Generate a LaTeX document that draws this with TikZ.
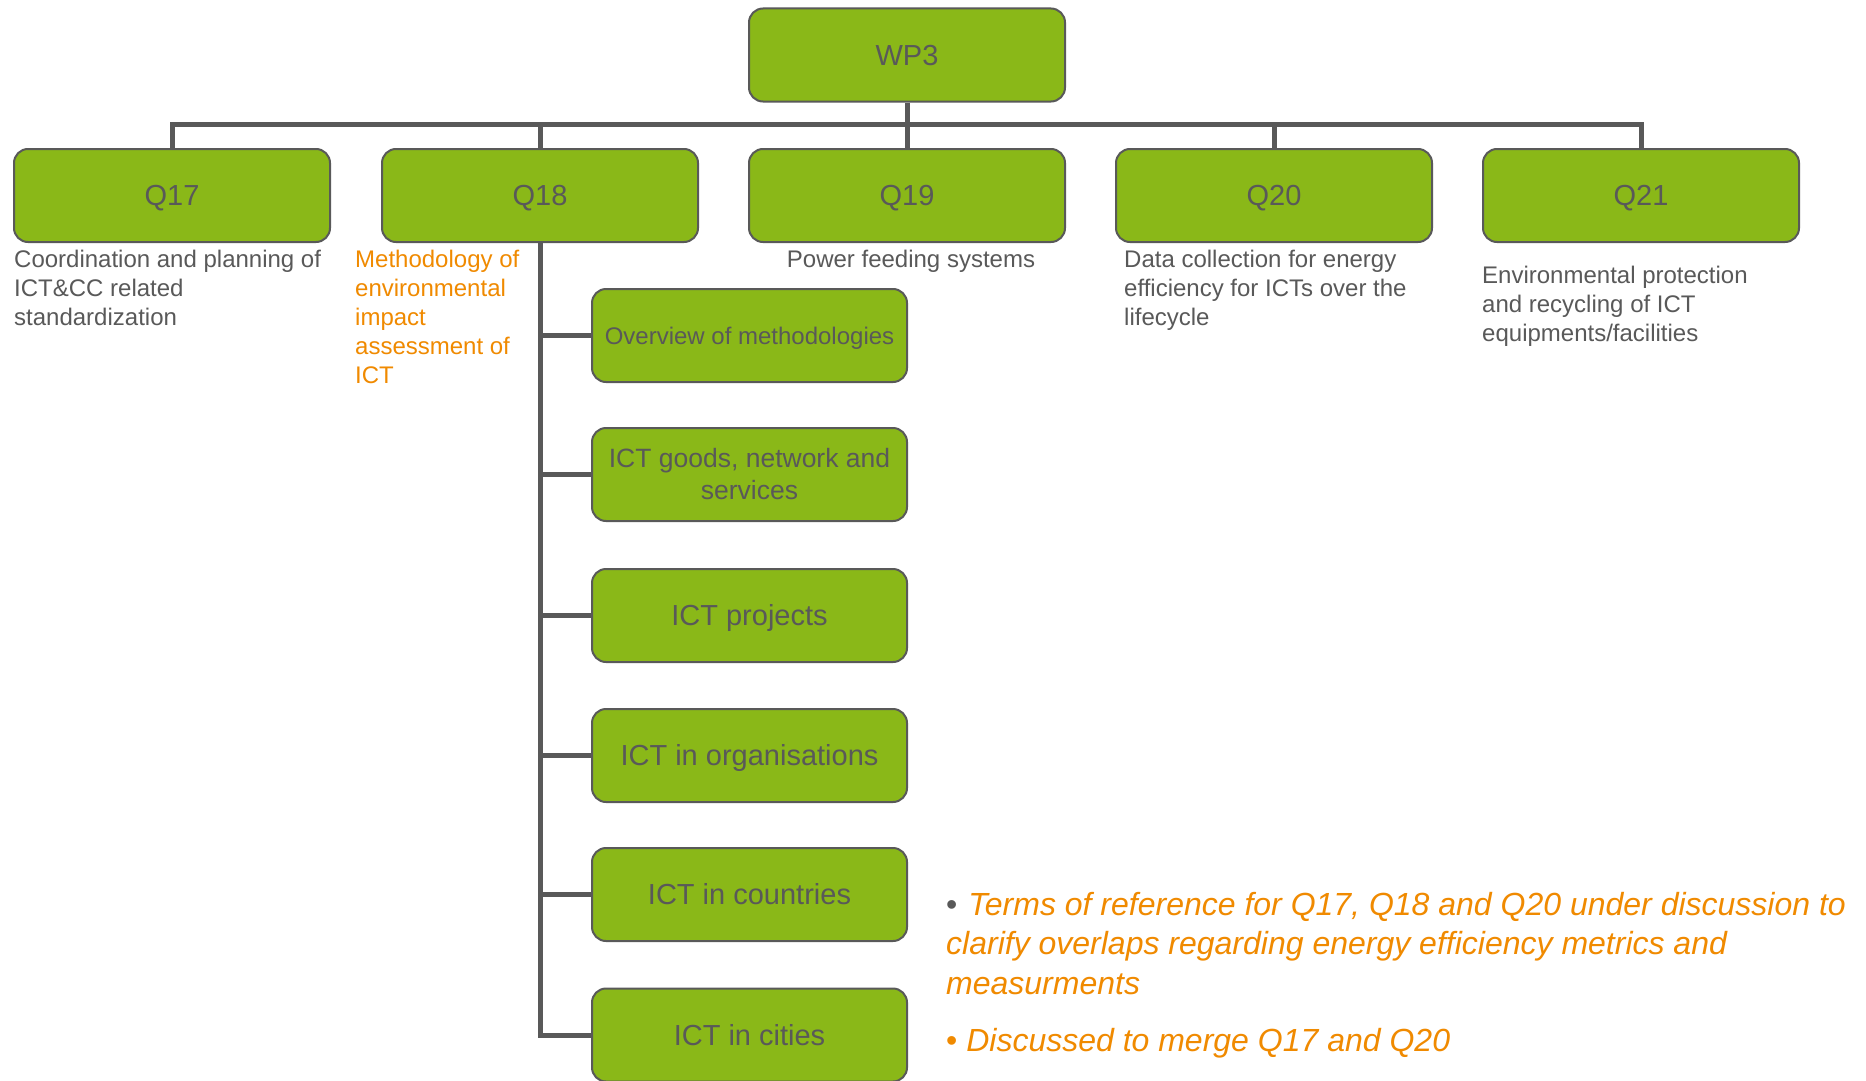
\documentclass[tikz,border=0pt]{standalone}
\usepackage{fontspec}
\setmainfont{Liberation Sans}
\definecolor{boxgreen}{RGB}{138,184,24}
\definecolor{txtgray}{RGB}{89,89,89}
\definecolor{orng}{RGB}{240,138,0}
\begin{document}
\begin{tikzpicture}[x=1pt,y=-1pt,
 basebox/.style={draw=txtgray, line width=2pt, fill=boxgreen, rounded corners=14pt, minimum width=316pt, minimum height=93pt, inner sep=0pt, text=txtgray, font=\fontsize{29}{35}\selectfont},
 qbox/.style={basebox, text height=20.8pt, text depth=0pt},
 sbox/.style={qbox, minimum width=315pt, align=center},
 conn/.style={draw=txtgray, line width=5pt, line join=miter},
 desc/.style={anchor=north west, inner sep=0pt, align=left, text=txtgray, font=\fontsize{24}{29}\selectfont},
 note/.style={anchor=north west, inner sep=0pt, align=left, text=orng, font=\fontsize{32}{39.5}\selectfont\itshape},
]
\useasboundingbox (0,0) rectangle (1866,1081);
\fill[white] (0,0) rectangle (1866,1081);

\node[qbox] (wp3) at (907,55) {WP3};
\node[qbox] (q17) at (172,195.5) {Q17};
\node[qbox] (q18) at (540,195.5) {Q18};
\node[qbox] (q19) at (907,195.5) {Q19};
\node[qbox] (q20) at (1274,195.5) {Q20};
\node[qbox] (q21) at (1641,195.5) {Q21};

\node[sbox, text height=17.2pt, font=\fontsize{24}{29}\selectfont] (s1) at (749.5,335.5) {Overview of methodologies};
\node[basebox, minimum width=315pt, align=center, font=\fontsize{26.5}{32}\selectfont] (s2) at (749.5,474.5) {\raisebox{-2.5pt}{ICT goods, network and}\\\raisebox{-2.5pt}{services}};
\node[sbox] (s3) at (749.5,615.5) {ICT projects};
\node[sbox] (s4) at (749.5,755.5) {ICT in organisations};
\node[sbox] (s5) at (749.5,894.5) {ICT in countries};
\node[sbox] (s6) at (749.5,1035) {ICT in cities};

\node[desc] (q17d) at (14,250) {Coordination and planning of\\ICT\&CC related\\standardization};
\node[desc, text=orng] (q18d) at (355,250) {Methodology of\\environmental\\impact\\assessment of\\ICT};
\node[desc, anchor=north] (q19d) at (911,250) {Power feeding systems};
\node[desc] (q20d) at (1124,250) {Data collection for energy\\efficiency for ICTs over the\\lifecycle};
\node[desc] (q21d) at (1482,266) {Environmental protection\\and recycling of ICT\\equipments/facilities};

\node[note] (n1) at (946,892) {{\upshape\color{txtgray}•} \hspace{2pt}Terms of reference for Q17, Q18 and Q20 under discussion to\\clarify overlaps regarding energy efficiency metrics and\\measurments};
\node[note] (n2) at (946,1028) {{\upshape•} Discussed to merge Q17 and Q20};

\coordinate (bus) at (0,124);
\draw[conn] (wp3.south) -- (q19.north);
\draw[conn] (q17.north) |- (q21.north |- bus) -- (q21.north);
\draw[conn] (q18.north) -- (q18.north |- bus);
\draw[conn] (q20.north) -- (q20.north |- bus);
\draw[conn] (q18.south) |- (s6.west);
\foreach \s in {s1,s2,s3,s4,s5} {
  \draw[conn] (q18.south |- \s.west) -- (\s.west);
}
\end{tikzpicture}
\end{document}
